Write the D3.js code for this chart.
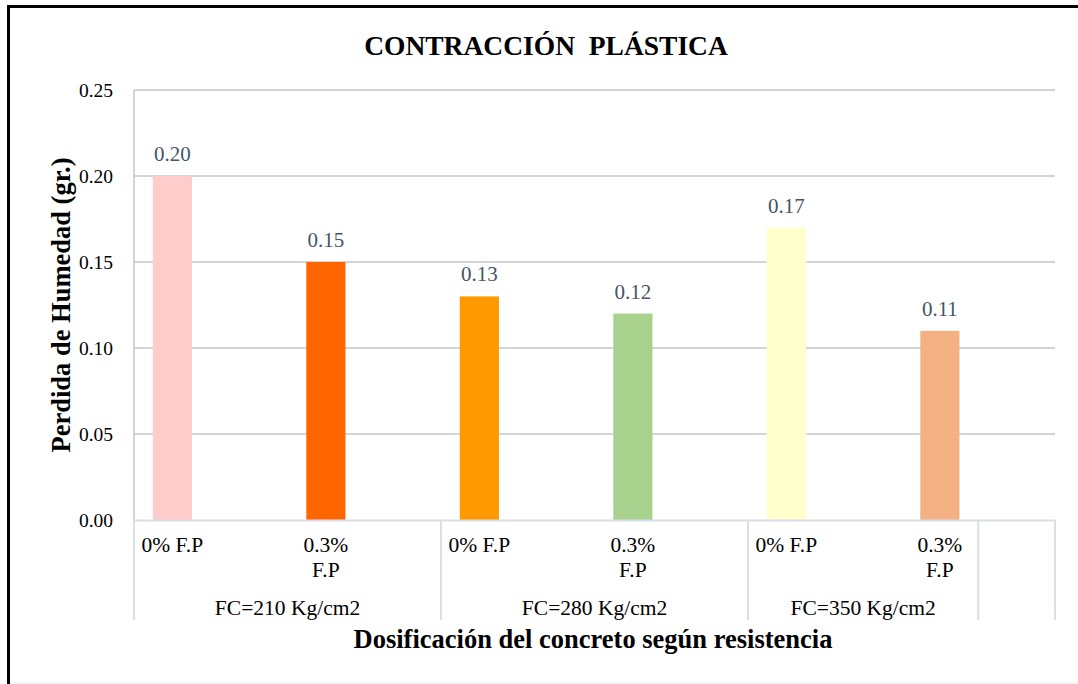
<!DOCTYPE html>
<html>
<head>
<meta charset="utf-8">
<script src="https://cdn.jsdelivr.net/npm/d3@7"></script>
<style>
  html, body { margin: 0; padding: 0; background: #fff; }
  svg { display: block; }
</style>
</head>
<body>
<svg id="chart" width="1078" height="684"></svg>
<script>
// ---- data ----
const title = "CONTRACCIÓN  PLÁSTICA";
const yTitle = "Perdida de Humedad (gr.)";
const xTitle = "Dosificación del concreto según resistencia";
const groups = ["FC=210 Kg/cm2", "FC=280 Kg/cm2", "FC=350 Kg/cm2", ""];
const groupSlots = [4, 4, 3, 1];           // category slots spanned by each group
const dosages = ["0% F.P", "0.3% F.P", "0% F.P", "0.3% F.P", "0% F.P", "0.3% F.P"];
const dosageSlots = [0, 2, 4, 6, 8, 10];    // slot index of each bar
const values = [0.20, 0.15, 0.13, 0.12, 0.17, 0.11];
const barColors = ["#FFCCCC", "#FF6600", "#FF9900", "#A9D18E", "#FFFFCC", "#F4B183"];
const yTicks = [0, 0.05, 0.10, 0.15, 0.20, 0.25];
const totalSlots = 12;

// ---- layout ----
const svg = d3.select("#chart");
const W = 1078, H = 684;
const plot = { left: 134, right: 1055, top: 90, bottom: 520 };
const serif = "'Liberation Serif', 'Times New Roman', serif";

// outer frame
svg.append("line").attr("x1", 8.5).attr("x2", 8.5).attr("y1", 5).attr("y2", 684)
  .attr("stroke", "#000").attr("stroke-width", 3);
svg.append("line").attr("x1", 7).attr("x2", W).attr("y1", 6.5).attr("y2", 6.5)
  .attr("stroke", "#000").attr("stroke-width", 3);
svg.append("line").attr("x1", 10).attr("x2", W).attr("y1", 683).attr("y2", 683)
  .attr("stroke", "#E8E8E8").attr("stroke-width", 1);

const slots = d3.range(totalSlots);
const x = d3.scaleBand().domain(slots).range([plot.left, plot.right]).paddingInner(0).paddingOuter(0);
const y = d3.scaleLinear().domain([0, 0.25]).range([plot.bottom, plot.top]);

// gridlines
svg.append("g").selectAll("line").data(yTicks.filter(d => d > 0)).join("line")
  .attr("x1", plot.left).attr("x2", plot.right)
  .attr("y1", d => y(d)).attr("y2", d => y(d))
  .attr("stroke", "#C6C6C6").attr("stroke-width", 1.5);

// y axis line
svg.append("line").attr("x1", plot.left).attr("x2", plot.left)
  .attr("y1", plot.top).attr("y2", plot.bottom)
  .attr("stroke", "#C6C6C6").attr("stroke-width", 1.5);

// y axis tick labels via d3 axis
const yAxis = d3.axisLeft(y).tickValues(yTicks).tickFormat(d3.format(".2f")).tickSize(0).tickPadding(21);
const yg = svg.append("g").attr("transform", `translate(${plot.left},0)`).call(yAxis);
yg.select(".domain").remove();
yg.selectAll("text").attr("font-family", serif).attr("font-size", 19.5).attr("fill", "#000");

// bars
const bw = x.bandwidth() * 0.51;
svg.append("g").selectAll("rect").data(values).join("rect")
  .attr("x", (d, i) => x(dosageSlots[i]) + (x.bandwidth() - bw) / 2)
  .attr("width", bw)
  .attr("y", d => y(d))
  .attr("height", d => y(0) - y(d))
  .attr("fill", (d, i) => barColors[i]);

// data labels
svg.append("g").selectAll("text").data(values).join("text")
  .attr("x", (d, i) => x(dosageSlots[i]) + x.bandwidth() / 2)
  .attr("y", d => y(d) - 15)
  .attr("text-anchor", "middle")
  .attr("font-family", serif).attr("font-size", 21)
  .attr("fill", "#44546A")
  .text(d => d3.format(".2f")(d));

// category axis (multi-level)
const axisColor = "#D9DEE7";
svg.append("line").attr("x1", plot.left).attr("x2", plot.right)
  .attr("y1", plot.bottom + 0.5).attr("y2", plot.bottom + 0.5)
  .attr("stroke", axisColor).attr("stroke-width", 2);
let acc = 0;
const bounds = [0];
groupSlots.forEach(n => { acc += n; bounds.push(acc); });
svg.append("g").selectAll("line").data(bounds).join("line")
  .attr("x1", b => b < totalSlots ? x(b) : plot.right)
  .attr("x2", b => b < totalSlots ? x(b) : plot.right)
  .attr("y1", plot.bottom).attr("y2", 620)
  .attr("stroke", axisColor).attr("stroke-width", 2);

// dosage labels (wrap into two lines when needed)
const dl = svg.append("g").selectAll("text").data(dosages).join("text")
  .attr("text-anchor", "middle")
  .attr("font-family", serif).attr("font-size", 21.5).attr("fill", "#000");
dl.each(function(d, i) {
  const cx = x(dosageSlots[i]) + x.bandwidth() / 2;
  const t = d3.select(this);
  const parts = d.startsWith("0.3%") ? d.split(" ") : [d];
  parts.forEach((p, k) => {
    t.append("tspan").attr("x", cx).attr("y", 552 + k * 25).text(p);
  });
});

// group labels
svg.append("g").selectAll("text").data(groups).join("text")
  .attr("x", (g, i) => {
    const a = bounds[i], b = bounds[i + 1];
    const xa = x(a), xb = b < totalSlots ? x(b) : plot.right;
    return (xa + xb) / 2;
  })
  .attr("y", 615)
  .attr("text-anchor", "middle")
  .attr("font-family", serif).attr("font-size", 21.5).attr("fill", "#000")
  .text(g => g);

// titles
svg.append("text").attr("x", 546).attr("y", 55).attr("text-anchor", "middle")
  .attr("font-family", serif).attr("font-size", 27.5).attr("font-weight", "bold")
  .attr("xml:space", "preserve").style("white-space", "pre")
  .text(title);

svg.append("text").attr("x", 593).attr("y", 648).attr("text-anchor", "middle")
  .attr("font-family", serif).attr("font-size", 26.5).attr("font-weight", "bold")
  .text(xTitle);

svg.append("text")
  .attr("transform", "translate(70,305) rotate(-90)")
  .attr("text-anchor", "middle")
  .attr("font-family", serif).attr("font-size", 26.5).attr("font-weight", "bold")
  .text(yTitle);
</script>
</body>
</html>
